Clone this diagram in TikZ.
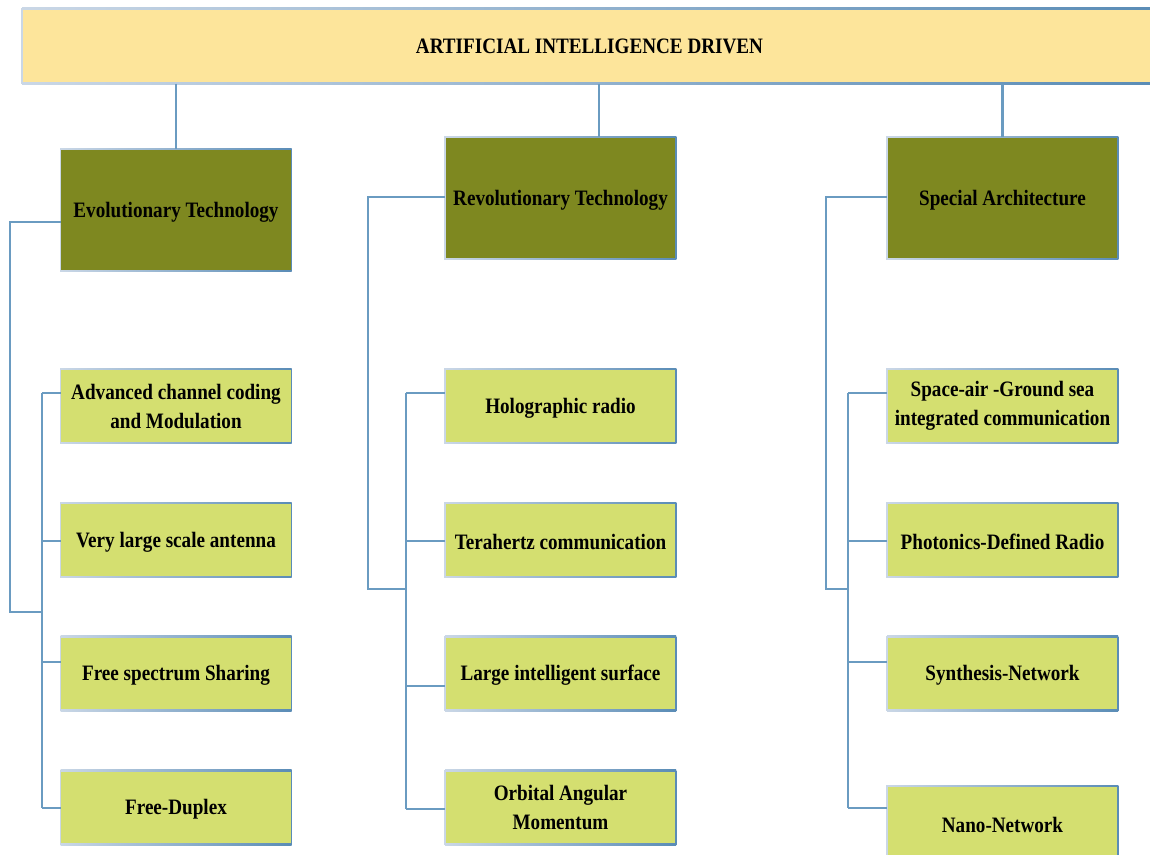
\documentclass[tikz,border=0pt]{standalone}
\usepackage{fontspec}
\setmainfont{Liberation Serif}[FakeStretch=0.87]
\definecolor{bannerfill}{HTML}{FDE59B}
\definecolor{headfill}{HTML}{7E8820}
\definecolor{leaffill}{HTML}{D4DF70}
\definecolor{wirec}{HTML}{6A9BC1}
\definecolor{edgelight}{HTML}{CAD7E6}
\definecolor{edgedark}{HTML}{5A8CB6}
\tikzset{
  box/.style={rectangle, draw=edgelight, line width=1.5pt, inner sep=0pt, outer sep=0pt,
    align=center, text=black, font=\bfseries\fontsize{22pt}{29pt}\selectfont},
  banner/.style={box, fill=bannerfill, minimum width=1135pt, minimum height=75pt},
  lowered/.style={execute at begin node={\rule{0pt}{19.5pt}}},
  head/.style={box, lowered, fill=headfill, minimum width=231pt, minimum height=122pt},
  leaf/.style={box, lowered, fill=leaffill, minimum width=231pt, minimum height=74pt},
  wire/.style={draw=wirec, line width=2.6pt},
}
\begin{document}
\begin{tikzpicture}[x=1pt, y=-1pt]
\useasboundingbox (0,0) rectangle (1150,854);

% top banner
\node[banner] (ai) at (589.5,46) {ARTIFICIAL INTELLIGENCE DRIVEN};

% three main branches
\node[head] (evo) at (176,210) {Evolutionary Technology};
\node[head] (rev) at (560.5,198) {Revolutionary Technology};
\node[head] (spa) at (1002.5,198) {Special Architecture};

% evolutionary technology items
\node[leaf] (e1) at (176,406)   {Advanced channel coding\\and Modulation};
\node[leaf] (e2) at (176,540)   {Very large scale antenna};
\node[leaf] (e3) at (176,673.5) {Free spectrum Sharing};
\node[leaf] (e4) at (176,807.5) {Free-Duplex};

% revolutionary technology items
\node[leaf] (r1) at (560.5,406)   {Holographic radio};
\node[leaf] (r2) at (560.5,540)   {Terahertz communication};
\node[leaf] (r3) at (560.5,673.5) {Large intelligent surface};
\node[leaf] (r4) at (560.5,807.5) {Orbital Angular\\Momentum};

% special architecture items
\node[leaf] (s1) at (1002.5,406)   {Space-air -Ground sea\\integrated communication};
\node[leaf] (s2) at (1002.5,540)   {Photonics-Defined Radio};
\node[leaf] (s3) at (1002.5,673.5) {Synthesis-Network};
\node[leaf] (s4) at (1002.5,823)   {Nano-Network};

% shaded top, bottom and right edges
\foreach \n in {ai,evo,rev,spa,e1,e2,e3,e4,r1,r2,r3,r4,s1,s2,s3,s4}{
  \shade[left color=edgelight, right color=edgedark]
    ([yshift=-0.75pt]\n.north west) rectangle ([yshift=0.75pt]\n.north east);
  \shade[left color=edgelight, right color=edgedark]
    ([yshift=-0.75pt]\n.south west) rectangle ([yshift=0.75pt]\n.south east);
  \fill[edgedark] ([xshift=-0.75pt]\n.south east) rectangle ([xshift=0.75pt]\n.north east);
}

% banner to main branches
\coordinate (revtop) at (599,137);
\draw[wire] (ai.south -| evo.north) -- (evo.north);
\draw[wire] (ai.south -| revtop) -- (rev.north -| revtop);
\draw[wire] (ai.south -| spa.north) -- (spa.north);

% evolutionary bracket and bus
\coordinate (ek) at (10,222);
\coordinate (ej) at (42,612);
\coordinate (et) at (42,393);
\coordinate (eb) at (42,808);
\draw[wire] (evo.west |- ek) -- (ek) |- (ej);
\draw[wire] (et) -- (eb);
\draw[wire] (et) -- (e1.west |- et);
\draw[wire] (42,541) coordinate (e2j) -- (e2.west |- e2j);
\draw[wire] (42,662) coordinate (e3j) -- (e3.west |- e3j);
\draw[wire] (eb) -- (e4.west |- eb);

% revolutionary bracket and bus
\coordinate (rk) at (368,197);
\coordinate (rj) at (406,589);
\coordinate (rt) at (406,393);
\coordinate (rb) at (406,809);
\draw[wire] (rev.west |- rk) -- (rk) |- (rj);
\draw[wire] (rt) -- (rb);
\draw[wire] (rt) -- (r1.west |- rt);
\draw[wire] (406,541) coordinate (r2j) -- (r2.west |- r2j);
\draw[wire] (406,686) coordinate (r3j) -- (r3.west |- r3j);
\draw[wire] (rb) -- (r4.west |- rb);

% special architecture bracket and bus
\coordinate (sk) at (826,197);
\coordinate (sj) at (848,589);
\coordinate (st) at (848,393);
\coordinate (sb) at (848,808);
\draw[wire] (spa.west |- sk) -- (sk) |- (sj);
\draw[wire] (st) -- (sb);
\draw[wire] (st) -- (s1.west |- st);
\draw[wire] (848,541) coordinate (s2j) -- (s2.west |- s2j);
\draw[wire] (848,662) coordinate (s3j) -- (s3.west |- s3j);
\draw[wire] (sb) -- (s4.west |- sb);
\end{tikzpicture}
\end{document}
